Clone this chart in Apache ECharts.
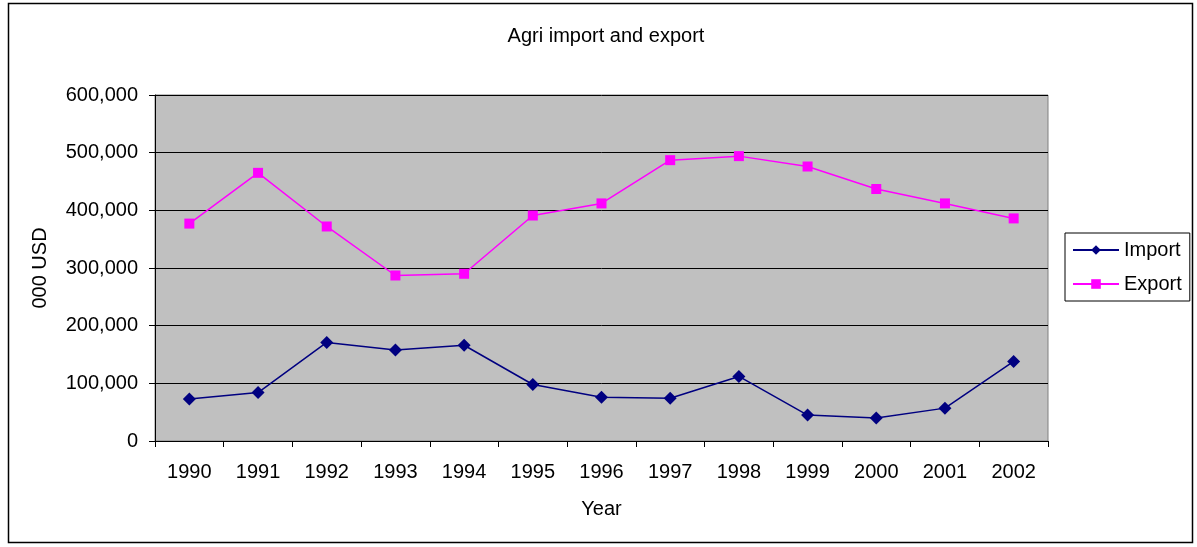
<!DOCTYPE html>
<html>
<head>
<meta charset="utf-8">
<script src="https://cdn.jsdelivr.net/npm/echarts@6/dist/echarts.min.js"></script>
<style>
  html, body { margin: 0; padding: 0; background: #fff; }
  #chart { width: 1197px; height: 547px; }
</style>
</head>
<body>
<div id="chart"></div>
<script>
// values in 000 USD
var years = ['1990', '1991', '1992', '1993', '1994', '1995', '1996', '1997', '1998', '1999', '2000', '2001', '2002'];
var importVals = [73000, 84000, 171000, 158000, 166000, 98000, 76000, 74000, 112000, 45000, 40000, 57000, 138000];
var exportVals = [377000, 465000, 372000, 287000, 290000, 391000, 412000, 487000, 494000, 476000, 437000, 412000, 386000];

var font = 'Liberation Sans, Arial, sans-serif';
var chart = echarts.init(document.getElementById('chart'));

chart.setOption({
      animation: false,
      textStyle: { fontFamily: font },
      title: {
            text: 'Agri import and export',
            left: 601,
            textAlign: 'center',
            top: 21,
            textStyle: { fontSize: 20, fontWeight: 'normal', color: '#000', fontFamily: font }
      },
      graphic: [{
            type: 'rect',
            shape: { x: 8.5, y: 3.5, width: 1184, height: 539 },
            style: { fill: 'none', stroke: '#000', lineWidth: 1.5 },
            silent: true
      }],
      legend: {
            orient: 'vertical',
            left: 1065,
            top: 233,
            padding: [7, 8, 7, 7],
            itemGap: 14,
            itemWidth: 46,
            itemHeight: 12,
            borderColor: '#000',
            borderWidth: 1,
            backgroundColor: '#fff',
            textStyle: { fontSize: 20, color: '#000', fontFamily: font },
            data: ['Import', 'Export']
      },
      grid: {
            left: 155,
            right: 149,
            top: 95,
            bottom: 106,
            show: true,
            backgroundColor: '#c0c0c0',
            borderColor: '#808080',
            borderWidth: 1
      },
      xAxis: {
            type: 'category',
            data: years,
            boundaryGap: true,
            name: 'Year',
            nameLocation: 'middle',
            nameGap: 58,
            nameTextStyle: { fontSize: 20, color: '#000', fontFamily: font },
            axisLine: { lineStyle: { color: '#000', width: 1 } },
            axisTick: { show: true, length: 6, alignWithLabel: false, lineStyle: { color: '#000' } },
            axisLabel: { fontSize: 20, color: '#000', margin: 21, fontFamily: font },
            splitLine: { show: false }
      },
      yAxis: {
            type: 'value',
            min: 0,
            max: 600000,
            interval: 100000,
            name: '000 USD',
            nameLocation: 'middle',
            nameGap: 105,
            nameTextStyle: { fontSize: 20, color: '#000', fontFamily: font },
            axisLine: { show: true, lineStyle: { color: '#000', width: 1 } },
            axisTick: { show: true, length: 6, lineStyle: { color: '#000' } },
            axisLabel: {
                  fontSize: 20, color: '#000', margin: 17, fontFamily: font,
                  formatter: function (v) { return v.toLocaleString('en-US'); }
            },
            splitLine: { show: true, lineStyle: { color: '#000', width: 1 } }
      },
      series: [
            {
                  name: 'Import',
                  type: 'line',
                  data: importVals,
                  symbol: 'diamond',
                  symbolSize: 13,
                  color: '#000080',
                  lineStyle: { color: '#000080', width: 1.5 },
                  itemStyle: { color: '#000080' }
            },
            {
                  name: 'Export',
                  type: 'line',
                  data: exportVals,
                  symbol: 'rect',
                  symbolSize: 10,
                  color: '#ff00ff',
                  lineStyle: { color: '#ff00ff', width: 1.5 },
                  itemStyle: { color: '#ff00ff' }
            }
      ]
});
</script>
</body>
</html>
